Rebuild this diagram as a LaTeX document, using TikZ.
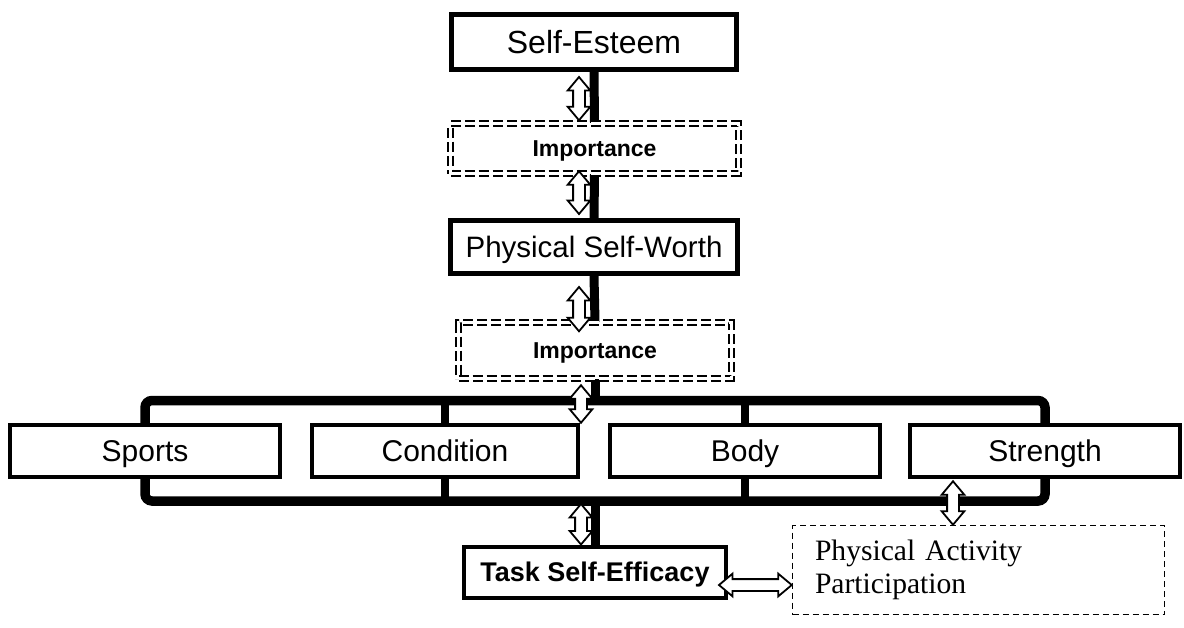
\documentclass[tikz,border=0pt]{standalone}
\usepackage{fontspec}
\setmainfont{Liberation Sans}
\newfontfamily\papserif{Liberation Serif}
\usetikzlibrary{shapes.arrows,calc,backgrounds}
\newcommand\hollowlink[2]{%
  \path let \p1=(#1), \p2=(#2) in (\p1) -- (\p2)
    node[hollow, midway, sloped, minimum height={veclen(\x2-\x1,\y2-\y1)}] {};}
\begin{document}
\begin{tikzpicture}[x=1pt,y=-1pt,
  box/.style={draw, fill=white, line width=4.5pt, inner sep=0pt, text depth=0pt},
  impbox/.style={draw, fill=white, double, double distance=3.5pt, line width=1.5pt,
    dash pattern=on 10pt off 4pt, inner sep=0pt, text height=16.6pt, text depth=0pt,
    font=\bfseries\fontsize{23}{28}\selectfont},
  hollow/.style={double arrow, draw, fill=white, line width=1.8pt, minimum width=21pt,
    double arrow head extend=5.5pt, double arrow tip angle=80,
    inner xsep=0pt, inner ysep=5pt},
  bar/.style={line width=9pt},
  lbl/.style={font=\fontsize{30}{36}\selectfont, text height=21.5pt, minimum height=52pt}]
\useasboundingbox (0,0) rectangle (1184,627);

\node[box, line width=5pt, minimum width=285pt, minimum height=55pt, text height=23pt,
  font=\fontsize{32}{38}\selectfont] (se) at (594,42) {Self-Esteem};
\node[impbox, minimum width=288pt, minimum height=50pt] (imp1) at (594.5,148.5) {Importance};
\node[box, line width=5pt, minimum width=287pt, minimum height=53pt, text height=21.2pt,
  font=\fontsize{29.5}{35}\selectfont] (psw) at (594,247) {Physical Self-Worth};
\node[impbox, minimum width=273pt, minimum height=56pt] (imp2) at (595,350.5) {Importance};
\node[box, lbl, minimum width=270pt] (sports) at (145,451) {Sports};
\node[box, lbl, minimum width=266pt] (cond) at (445,451) {Condition};
\node[box, lbl, minimum width=270pt] (body) at (745,451) {Body};
\node[box, lbl, minimum width=270pt] (str) at (1045,451) {Strength};
\node[box, line width=4pt, minimum width=262pt, minimum height=51pt, text height=19.4pt,
  font=\bfseries\fontsize{27}{32}\selectfont] (tse) at (595,572) {Task Self-Efficacy};
\node[draw, fill=white, line width=1.5pt, dash pattern=on 6pt off 4pt,
  minimum width=372pt, minimum height=89pt, text width=327pt, align=left,
  inner xsep=22pt, font=\papserif\fontsize{29.6}{33}\selectfont]
  (pap) at (978.5,570) {Physical Activity\\Participation};

\coordinate (bt) at (0,400.5);
\coordinate (bb) at (0,501);

\begin{scope}[on background layer]
  \fill[white] (0,0) rectangle (1184,627);
  \draw[line width=9.5pt, rounded corners=7pt] (sports.center |- bt) rectangle (str.center |- bb);
  \draw[line width=8pt] (cond.center |- bt) -- (cond.center |- bb);
  \draw[line width=8pt] (body.center |- bt) -- (body.center |- bb);
  \draw[bar] (se.south) -- (imp1.north);
  \draw[bar] (imp1.south) -- (psw.north);
  \draw[bar] (psw.south) -- (imp2.north);
  \draw[bar] (imp2.south) -- (imp2.south |- bt);
  \draw[bar] (tse.north |- bb) -- (tse.north);
\end{scope}

\hollowlink{$(se.south)+(-15,5)$}{$(imp1.north)+(-15.5,-2.5)$}
\hollowlink{$(imp1.south)+(-15.5,-3)$}{$(psw.north)+(-15,-4)$}
\hollowlink{$(psw.south)+(-15,11)$}{$(imp2.north)+(-16,9.5)$}
\hollowlink{$(imp2.south)+(-14,6)$}{$(imp2.south |- sports.north)+(-14,0)$}
\hollowlink{$(tse.north |- bb)+(-14,3)$}{$(tse.north)+(-14,0)$}
\hollowlink{$(str.south)+(-92,2)$}{$(str.south |- pap.north)+(-92,0)$}
\hollowlink{$(tse.east)+(-9,13)$}{$(tse.east -| pap.west)+(0,13)$}
\end{tikzpicture}
\end{document}
